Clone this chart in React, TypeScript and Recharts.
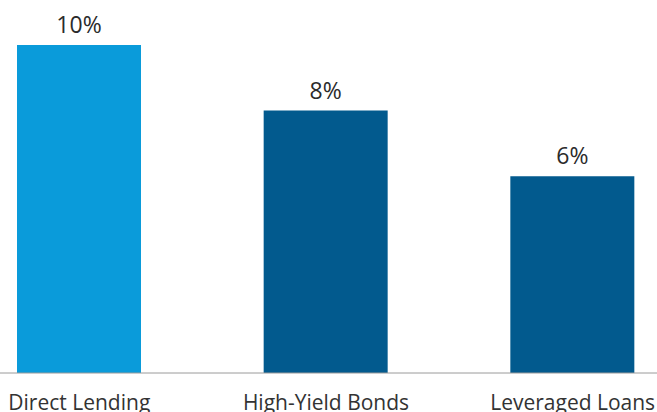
import { BarChart, Bar, XAxis, YAxis, Cell, LabelList } from 'recharts';

// Expected annual returns by asset class
const CATEGORIES = ['Direct Lending', 'High-Yield Bonds', 'Leveraged Loans'];
const VALUES = [10, 8, 6];
const BAR_COLORS = ['#0A9BDA', '#025A8E', '#025A8E'];

const data = CATEGORIES.map((name, i) => ({ name, value: VALUES[i] }));

const FONT = '"Open Sans", "Noto Sans", sans-serif';

export default function App() {
    return (
        <div
            style={{
                position: 'absolute',
                top: 0,
                left: 0,
                width: 657,
                height: 412,
                overflow: 'hidden',
                background: '#fff',
            }}
        >
            {/* plot is wider than the window: outer bands are cut by the frame */}
            <div style={{ position: 'absolute', top: 0, left: -44 }}>
                <BarChart
                    width={740}
                    height={412}
                    data={data}
                    margin={{ top: 45, right: 0, bottom: 0, left: 0 }}
                >
                    <XAxis
                        dataKey="name"
                        interval={0}
                        height={39}
                        tickLine={false}
                        tickMargin={16}
                        axisLine={{ stroke: '#9a9a9a', strokeWidth: 1 }}
                        tick={{ fontSize: 21, fill: '#333', fontFamily: FONT }}
                    />
                    <YAxis hide domain={[0, 10]} />
                    <Bar dataKey="value" barSize={124} isAnimationActive={false}>
                        {data.map((d, i) => (
                            <Cell key={`cell-${d.name}`} fill={BAR_COLORS[i]} />
                        ))}
                        <LabelList
                            dataKey="value"
                            position="top"
                            offset={12}
                            formatter={(v: any) => `${v}%`}
                            style={{ fontSize: 23, fill: '#2b2b2b', fontFamily: FONT }}
                        />
                    </Bar>
                </BarChart>
            </div>
        </div>
    );
}
